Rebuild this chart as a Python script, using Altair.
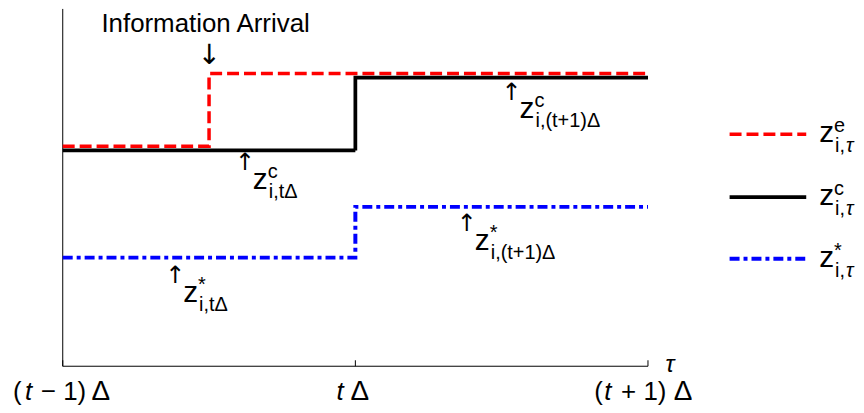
import altair as alt
import pandas as pd

# ---------------- data ----------------
series = ["z_e", "z_c", "z_star"]
red_t = [0.0, 0.5, 2.0]
red_v = [6.16, 8.19, 8.19]
black_t = [0.0, 1.0, 2.0]
black_v = [6.04, 8.08, 8.08]
blue_t = [0.0, 1.0, 2.0]
blue_v = [3.04, 4.46, 4.46]
tick_values = [0, 1, 2]

# ---------------- layout helpers (page px -> data units) ----------------
X0, XU = 63.0, 294.0      # page x of t=0, px per unit
Y0, YU = 367.0, 35.9      # page y of v=0, px per unit


def xd(px):
    return (px - X0) / XU


def yd(py):
    return (Y0 - py) / YU


rows = []
for s, ts, vs in [("z_e", red_t, red_v), ("z_c", black_t, black_v), ("z_star", blue_t, blue_v)]:
    for i, (t, v) in enumerate(zip(ts, vs)):
        rows.append({"t": t, "v": v, "s": s, "o": i})
lines_df = pd.DataFrame(rows)

xs = alt.Scale(domain=[0, 2], nice=False, zero=False)
ys = alt.Scale(domain=[0, 10], nice=False, zero=False)
col = alt.Scale(domain=series, range=["#ff0000", "#000000", "#0000ff"])
dash = alt.Scale(domain=series, range=[[12, 5], [1, 0], [10, 4, 4, 4]])
wid = alt.Scale(domain=series, range=[3.5, 4, 3.5])

FONT = "Liberation Sans"
ARROW_FONT = "DejaVu Sans"

# axes lines
axes_df = pd.DataFrame({"x1": [0.0, 0.0], "x2": [2.0, 0.0], "y1": [0.0, 0.0], "y2": [0.0, 10.0]})
axes = alt.Chart(axes_df).mark_rule(color="#000000", strokeWidth=1).encode(
    x=alt.X("x1:Q", scale=xs, axis=None),
    x2="x2:Q",
    y=alt.Y("y1:Q", scale=ys, axis=None),
    y2="y2:Q",
)

# inward ticks on x axis
tick_df = pd.DataFrame({"t": tick_values, "y1": [0.0] * 3, "y2": [6 / YU] * 3})
ticks = alt.Chart(tick_df).mark_rule(color="#000000", strokeWidth=1).encode(
    x=alt.X("t:Q", scale=xs, axis=None),
    y=alt.Y("y1:Q", scale=ys, axis=None),
    y2="y2:Q",
)

lines = alt.Chart(lines_df).mark_line(interpolate="step-after").encode(
    x=alt.X("t:Q", scale=xs, axis=None),
    y=alt.Y("v:Q", scale=ys, axis=None),
    color=alt.Color("s:N", scale=col, legend=None),
    strokeDash=alt.StrokeDash("s:N", scale=dash, legend=None),
    strokeWidth=alt.StrokeWidth("s:N", scale=wid, legend=None),
    order="o:Q",
)

# legend samples
leg_df = pd.DataFrame({
    "s": series,
    "x1": [xd(733)] * 3,
    "x2": [xd(810)] * 3,
    "y": [yd(134), yd(197), yd(259)],
})
legend_lines = alt.Chart(leg_df).mark_rule().encode(
    x=alt.X("x1:Q", scale=xs, axis=None),
    x2="x2:Q",
    y=alt.Y("y:Q", scale=ys, axis=None),
    color=alt.Color("s:N", scale=col, legend=None),
    strokeDash=alt.StrokeDash("s:N", scale=dash, legend=None),
    strokeWidth=alt.StrokeWidth("s:N", scale=wid, legend=None),
)

# ---------------- text parts (page px, baseline) ----------------
# (left_or_center_x, baseline_y, text, size, italic, align, font)
parts = []

# axis tick labels
parts += [
    (13, 401, "(", 26, False, "left", FONT), (25, 401, "t", 26, True, "left", FONT),
    (41, 401, "− 1)", 26, False, "left", FONT), (92, 401, "Δ", 28, False, "left", FONT),
    (338, 401, "t", 26, True, "left", FONT), (352, 401, "Δ", 28, False, "left", FONT),
    (597, 401, "(", 26, False, "left", FONT), (607, 401, "t", 26, True, "left", FONT),
    (624, 401, "+ 1)", 26, False, "left", FONT), (677, 401, "Δ", 28, False, "left", FONT),
    (673, 373, "τ", 24, True, "center", FONT),
]

# information arrival
parts += [
    (206.5, 31.5, "Information Arrival", 26, False, "center", FONT),
    (210, 63.5, "↓", 28, False, "center", ARROW_FONT),
]


def annot(zx, zb, sup, sub):
    return [
        (zx - 8, zb - 19, "↑", 24, False, "center", ARROW_FONT),
        (zx, zb, "z", 30, False, "left", FONT),
        (zx + 15, zb - 11, sup, 20, False, "left", FONT),
        (zx + 16, zb + 9, sub, 20, False, "left", FONT),
    ]


parts += annot(254, 189, "c", "i,tΔ")
parts += annot(184, 302, "*", "i,tΔ")
parts += annot(522, 118, "c", "i,(t+1)Δ")
parts += annot(477, 250, "*", "i,(t+1)Δ")

# legend labels
for ly, sup in [(134, "e"), (197, "c"), (259, "*")]:
    parts += [
        (823, ly + 8, "z", 30, False, "left", FONT),
        (838, ly - 2, sup, 20, False, "left", FONT),
        (839, ly + 18, "i,", 20, False, "left", FONT),
        (850, ly + 18, "τ", 20, True, "left", FONT),
    ]

txt_df = pd.DataFrame([
    {"x": xd(p[0]), "y": yd(p[1]), "text": p[2], "size": p[3], "italic": p[4],
     "align": p[5], "font": p[6]}
    for p in parts
])


def text_layer(italic, align, font):
    d = txt_df[(txt_df["italic"] == italic) & (txt_df["align"] == align) & (txt_df["font"] == font)]
    return alt.Chart(d).mark_text(
        font=font, align=align, baseline="alphabetic", color="#000000",
        fontStyle="italic" if italic else "normal",
    ).encode(
        x=alt.X("x:Q", scale=xs, axis=None),
        y=alt.Y("y:Q", scale=ys, axis=None),
        text="text:N",
        size=alt.Size("size:Q", scale=None, legend=None),
    )


chart = alt.layer(
    axes, ticks, lines, legend_lines,
    text_layer(False, "left", FONT), text_layer(True, "left", FONT),
    text_layer(False, "center", FONT), text_layer(True, "center", FONT),
    text_layer(False, "center", ARROW_FONT),
).properties(
    width=588, height=359,
    autosize=alt.AutoSizeParams(type="none"),
    padding={"left": 55, "top": 0, "right": 209, "bottom": 38},
    background="#ffffff",
).configure_view(strokeWidth=0)

chart.save("out.html", embed_options={"renderer": "svg", "actions": False})
